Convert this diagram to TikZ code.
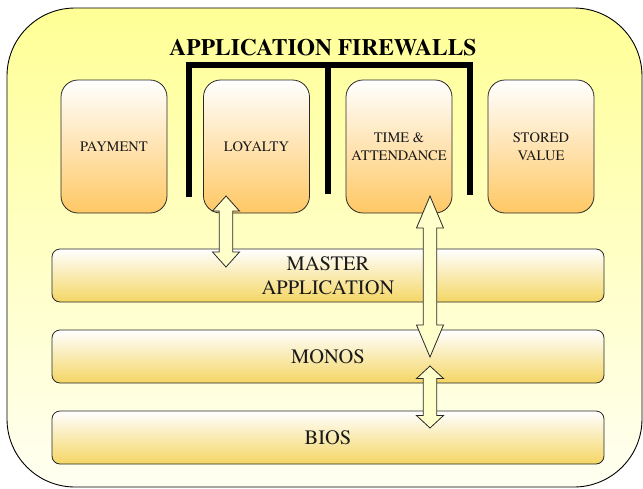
\documentclass[tikz,border=0pt]{standalone}
\usepackage{fontspec}
\setmainfont{TeX Gyre Termes}
\usetikzlibrary{calc}
\definecolor{outertop}{RGB}{255,255,150}
\definecolor{outerbot}{RGB}{255,255,242}
\definecolor{boxbot}{RGB}{255,200,100}
\definecolor{barbot}{RGB}{244,214,100}
\definecolor{arrfill}{RGB}{255,255,204}
\definecolor{edge}{RGB}{40,40,40}
\definecolor{txt}{RGB}{25,25,25}
\newcommand{\mydblarrow}[3]{%
  \draw[arrowsty] let \p1=(#1), \p2=(#2) in
   (\x1,\y1) -- (\x1+13.5pt,\y1-#3pt) -- (\x1+6.8pt,\y1-#3pt) -- (\x1+6.8pt,\y2+#3pt)
   -- (\x1+13.5pt,\y2+#3pt) -- (\x1,\y2) -- (\x1-13.5pt,\y2+#3pt) -- (\x1-6.8pt,\y2+#3pt)
   -- (\x1-6.8pt,\y1-#3pt) -- (\x1-13.5pt,\y1-#3pt) -- cycle;}
\begin{document}
\begin{tikzpicture}[x=1pt,y=-1pt,
  upbox/.style={draw=edge,line width=0.8pt,rounded corners=17pt,top color=white,bottom color=boxbot,
    minimum width=106pt,minimum height=133pt,inner sep=0pt,align=center,text=txt,
    font=\rmfamily\fontsize{14.5}{18}\selectfont},
  barbox/.style={draw=edge,line width=0.8pt,rounded corners=8pt,top color=white,bottom color=barbot,
    minimum width=552pt,minimum height=53pt,inner sep=0pt,align=center,text=txt,
    font=\rmfamily\fontsize{20.5}{24.5}\selectfont},
  arrowsty/.style={draw=edge,line width=0.8pt,fill=arrfill,line join=miter},
  wall/.style={line width=5.5pt,black}]
\useasboundingbox (0,0) rectangle (643,488);
% outer container
\path[draw=black,line width=0.9pt,rounded corners=68pt,top color=outertop,bottom color=outerbot]
  (7,8) rectangle (642,487);
% title
\node[anchor=base,font=\rmfamily\bfseries\fontsize{23.5}{28}\selectfont] (title) at (323,55) {APPLICATION FIREWALLS};
% firewall bracket
\draw[wall] (189,197) -- (189,65) -- (470,65) -- (470,195);
\draw[wall] (328,65) -- (328,194);
% upper application boxes
\node[upbox] (pay) at (114,146.5) {PAYMENT};
\node[upbox] (loy) at (256.5,146.5) {LOYALTY};
\node[upbox] (time) at (399,146.5) {TIME \&\\ATTENDANCE};
\node[upbox] (stor) at (541,146.5) {STORED\\VALUE};
% layers
\node[barbox] (master) at (328,275.5) {MASTER\\APPLICATION};
\node[barbox] (monos) at (328,356.5) {MONOS};
\node[barbox] (bios) at (328,437.5) {BIOS};
% arrow endpoints
\coordinate (a1t) at (226,196);
\coordinate (a1b) at (226,267);
\coordinate (a2t) at (430,196);
\coordinate (a2b) at (430,357);
\coordinate (a3t) at (430,366);
\coordinate (a3b) at (430,428);
\mydblarrow{a1t}{a1b}{15}
\mydblarrow{a2t}{a2b}{32}
\mydblarrow{a3t}{a3b}{12.5}
\end{tikzpicture}
\end{document}
